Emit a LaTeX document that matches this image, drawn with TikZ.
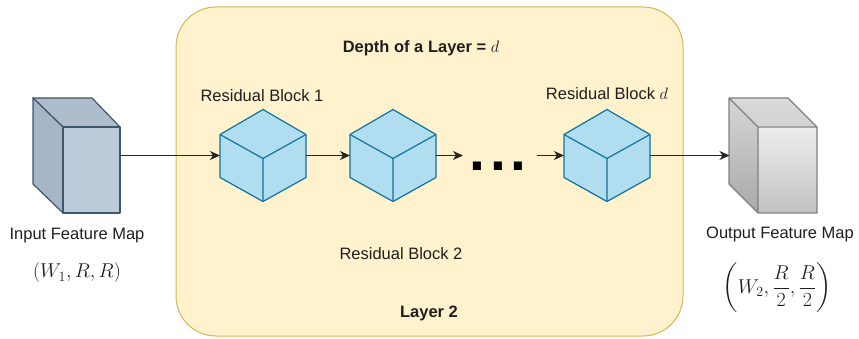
\RequirePackage{fix-cm}
\documentclass[tikz,border=0pt]{standalone}
\usepackage{amsmath}
\usepackage{fontspec}
\setmainfont{Liberation Sans}
\usetikzlibrary{arrows.meta}

\definecolor{layerfill}{HTML}{FFF2CC}
\definecolor{layerline}{HTML}{D6B656}
\definecolor{cubefill}{HTML}{B1DDF0}
\definecolor{cubeline}{HTML}{10739E}
\definecolor{inline}{HTML}{3F566B}
\definecolor{infront}{HTML}{BCCBDA}
\definecolor{inside}{HTML}{A6B6C7}
\definecolor{intop}{HTML}{AEBDCC}
\definecolor{outline}{HTML}{808080}
\definecolor{txt}{HTML}{1F1F1F}

% isometric residual-block cube: name, x, y
\newcommand{\isocube}[3]{%
  \node[cubeanchor] (#1) at (#2,#3) {};
  \begin{scope}[shift={(#2,#3)}]
    \filldraw[cubeface] (0,-46) -- (43,-21) -- (43,22) -- (0,46) -- (-43,22) -- (-43,-21) -- cycle;
    \draw[cubeface, fill=none] (-43,-21) -- (0,3) -- (43,-21) (0,3) -- (0,46);
  \end{scope}}

\begin{document}
\begin{tikzpicture}[x=1pt,y=-1pt,
  lbl/.style={font=\fontsize{16.5}{19.8}\selectfont, text=txt, inner sep=0pt, anchor=base},
  boldlbl/.style={lbl, font=\fontsize{16.5}{19.8}\selectfont\bfseries},
  mathlbl/.style={font=\fontsize{20}{24}\selectfont, text=txt, inner sep=0pt},
  flow/.style={draw=black!85, line width=1.2pt, -{Stealth[length=10pt,width=9pt,inset=3pt]}},
  cubeanchor/.style={minimum width=86pt, minimum height=92pt, inner sep=0pt, outer sep=0pt},
  boxanchor/.style={minimum width=87pt, minimum height=115pt, inner sep=0pt, outer sep=0pt},
  cubeface/.style={fill=cubefill, draw=cubeline, line width=1.2pt, line join=round},
  inface/.style={draw=inline, line width=1.2pt, line join=round},
  outface/.style={draw=outline, line width=1.2pt, line join=round},
]
\useasboundingbox (0,0) rectangle (859,339);

% layer container
\node[draw=layerline, fill=layerfill, line width=1pt, rounded corners=40pt,
      minimum width=507pt, minimum height=329pt, inner sep=0pt] (layer) at (429.5,171.5) {};

% input feature map
\node[boxanchor] (inmap) at (76.5,155.5) {};
\filldraw[inface, fill=intop] (33,98) -- (92,98) -- (120,127) -- (63,127) -- cycle;
\filldraw[inface, fill=inside] (33,98) -- (63,127) -- (63,213) -- (33,184) -- cycle;
\filldraw[inface, fill=infront] (63,127) rectangle (120,213);

% output feature map
\node[boxanchor] (outmap) at (773,155.5) {};
\shade[top color=black!14, bottom color=black!18] (729,98) -- (788,98) -- (817,127) -- (758,127) -- cycle;
\shade[top color=black!16, bottom color=black!34] (729,98) -- (758,127) -- (758,213) -- (729,184) -- cycle;
\shade[top color=black!7, bottom color=black!24] (758,127) rectangle (817,213);
\draw[outface] (729,98) -- (788,98) -- (817,127) -- (817,213) -- (758,213) -- (729,184) -- cycle
               (729,98) -- (758,127) -- (817,127) (758,127) -- (758,213);

% residual blocks
\isocube{c1}{263}{155.5}
\isocube{c2}{393}{155.5}
\isocube{cd}{607}{155.5}

% connectors
\coordinate (gapL) at (463,155.5);
\coordinate (gapR) at (537,155.5);
\draw[flow] (inmap.east) -- (c1.west);
\draw[flow] (c1.east) -- (c2.west);
\draw[flow] (c2.east) -- (gapL);
\draw[flow] (gapR) -- (cd.west);
\draw[flow] (cd.east) -- (outmap.west);

\node[inner sep=0pt, anchor=base, font=\fontsize{57}{57}\selectfont\bfseries, text=black]
  (dots) at (498,171) {.\kern4.7pt.\kern4.7pt.};

% labels
\node[boldlbl] (depth) at (421,53) {Depth of a Layer = $d$};
\node[lbl] (rb1) at (262,102) {Residual Block 1};
\node[lbl] (rb2) at (401,259) {Residual Block 2};
\node[lbl] (rbd) at (607,100) {Residual Block $d$};
\node[boldlbl] (lname) at (429,317) {Layer 2};
\node[lbl] (inlbl) at (77,239) {Input Feature Map};
\node[lbl] (outlbl) at (780,238) {Output Feature Map};
\node[mathlbl] (indim) at (77,273) {$(W_1, R, R)$};
\node[mathlbl] (outdim) at (777,288) {$\left(W_2, \dfrac{R}{2}, \dfrac{R}{2}\right)$};
\end{tikzpicture}
\end{document}
